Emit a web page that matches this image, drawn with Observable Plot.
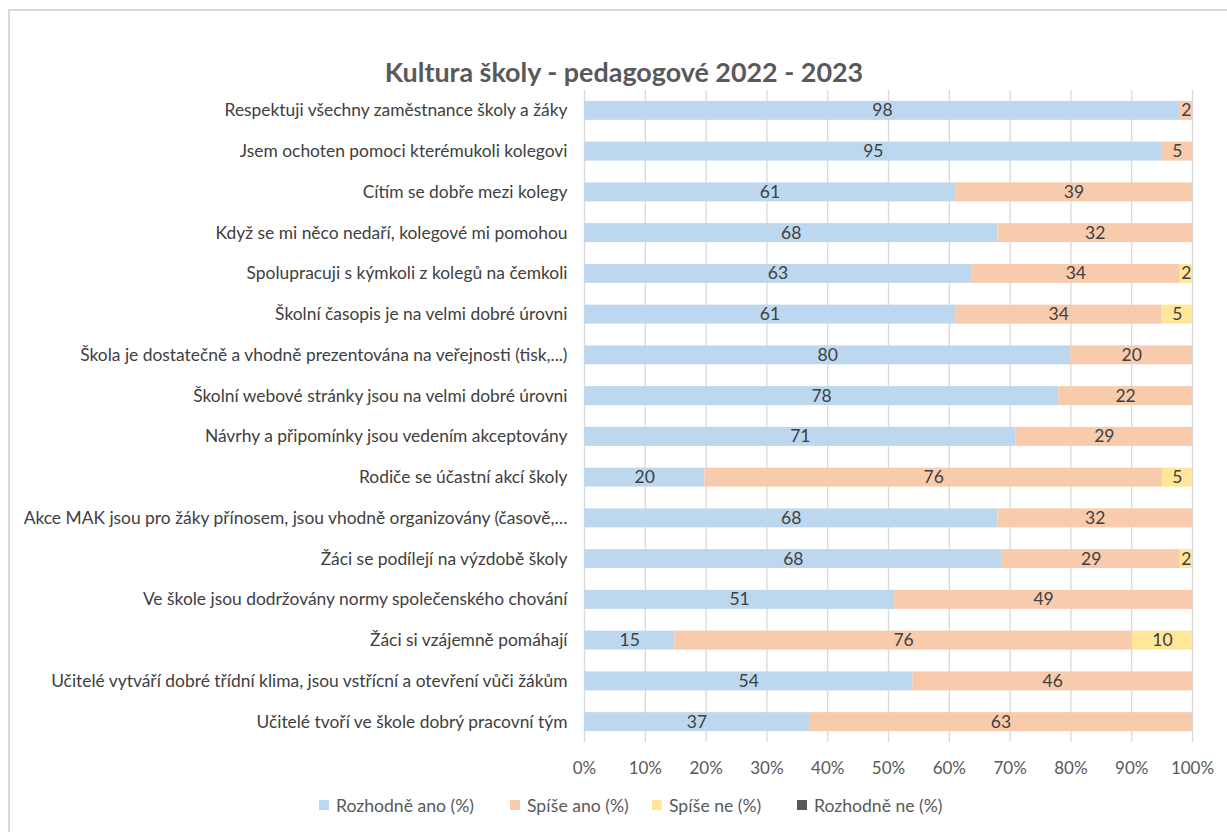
<!DOCTYPE html>
<html>
<head>
<meta charset="utf-8">
<script src="https://cdn.jsdelivr.net/npm/d3@7"></script>
<script src="https://cdn.jsdelivr.net/npm/@observablehq/plot@0.6"></script>
<style>
  html, body { margin: 0; padding: 0; background: #fff; }
  body { width: 1227px; height: 832px; position: relative; overflow: hidden; font-family: Lato, "Open Sans", sans-serif; }
  #frame { position: absolute; left: 8px; top: 9px; width: 1240px; height: 840px; border: 2px solid #d9d9d9; box-sizing: border-box; }
  #title { position: absolute; left: 0; top: 55px; width: 1248px; text-align: center; font-size: 26.9px; font-weight: bold; color: #595959; }
  #chart { position: absolute; left: 0; top: 0; }
  #legend { position: absolute; left: 0; top: 795px; width: 1227px; height: 20px; font-size: 17.6px; color: #595959; white-space: nowrap; }
  .item { position: absolute; top: 0; height: 20px; display: flex; align-items: center; }
  .sw { width: 10px; height: 10px; margin-right: 7px; display: inline-block; }
</style>
</head>
<body>
<div id="frame"></div>
<div id="title">Kultura školy - pedagogové 2022 - 2023</div>
<div id="chart"></div>
<div id="legend"></div>
<script>
const questions = [
  "Respektuji všechny zaměstnance školy a žáky",
  "Jsem ochoten pomoci kterémukoli kolegovi",
  "Cítím se dobře mezi kolegy",
  "Když se mi něco nedaří, kolegové mi pomohou",
  "Spolupracuji s kýmkoli z kolegů na čemkoli",
  "Školní časopis je na velmi dobré úrovni",
  "Škola je dostatečně a vhodně prezentována na veřejnosti (tisk,...)",
  "Školní webové stránky jsou na velmi dobré úrovni",
  "Návrhy a připomínky jsou vedením akceptovány",
  "Rodiče se účastní akcí školy",
  "Akce MAK jsou pro žáky přínosem, jsou vhodně organizovány (časově,…",
  "Žáci se podílejí na výzdobě školy",
  "Ve škole jsou dodržovány normy společenského chování",
  "Žáci si vzájemně pomáhají",
  "Učitelé vytváří dobré třídní klima, jsou vstřícní a otevření vůči žákům",
  "Učitelé tvoří ve škole dobrý pracovní tým"
];
const categories = ["Rozhodně ano (%)", "Spíše ano (%)", "Spíše ne (%)", "Rozhodně ne (%)"];
const colors = ["#bdd7ee", "#f8cbad", "#ffe699", "#595959"];
const rozhodneAno = [98, 95, 61, 68, 63, 61, 80, 78, 71, 20, 68, 68, 51, 15, 54, 37];
const spiseAno    = [ 2,  5, 39, 32, 34, 34, 20, 22, 29, 76, 32, 29, 49, 76, 46, 63];
const spiseNe     = [ 0,  0,  0,  0,  2,  5,  0,  0,  0,  5,  0,  2,  0, 10,  0,  0];
const rozhodneNe  = [ 0,  0,  0,  0,  0,  0,  0,  0,  0,  0,  0,  0,  0,  0,  0,  0];
const xTicks = [0, 0.1, 0.2, 0.3, 0.4, 0.5, 0.6, 0.7, 0.8, 0.9, 1];

const series = [rozhodneAno, spiseAno, spiseNe, rozhodneNe];
const data = [];
questions.forEach((q, i) => {
  categories.forEach((c, j) => {
    data.push({q, cat: c, value: series[j][i]});
  });
});
const nonzero = data.filter(d => d.value > 0);

const font = "Lato, 'Open Sans', sans-serif";

const chart = Plot.plot({
  width: 1227,
  height: 790,
  marginLeft: 584,
  marginRight: 35,
  marginTop: 90,
  marginBottom: 48,
  style: { fontFamily: font, fontSize: "17px", color: "#404040", background: "transparent" },
  x: { domain: [0, 1], axis: null },
  y: { domain: questions, paddingInner: 0.535, paddingOuter: 0.2675, round: false, axis: null },
  color: { domain: categories, range: colors },
  marks: [
    Plot.ruleX(xTicks, { stroke: "#d9d9d9", strokeWidth: 1.3 }),
    Plot.barX(nonzero, Plot.stackX({ x: "value", y: "q", fill: "cat", order: categories, offset: "normalize" })),
    Plot.text(nonzero, Plot.stackX({ x: "value", y: "q", z: "cat", order: categories, offset: "normalize", text: d => String(d.value), fill: "#404040", fontSize: 17.5 })),
    Plot.axisY({ tickSize: 0, tickPadding: 17, fontSize: 17.4, color: "#404040", label: null }),
    Plot.axisX(xTicks, { tickSize: 0, tickPadding: 19, fontSize: 17, color: "#595959", label: null, tickFormat: d => Math.round(d * 100) + "%" })
  ]
});
document.getElementById("chart").appendChild(chart);

const legendX = [319, 510, 652, 797];
const legend = document.getElementById("legend");
categories.forEach((c, i) => {
  const item = document.createElement("div");
  item.className = "item";
  item.style.left = legendX[i] + "px";
  const sw = document.createElement("span");
  sw.className = "sw";
  sw.style.background = colors[i];
  item.appendChild(sw);
  item.appendChild(document.createTextNode(c));
  legend.appendChild(item);
});
</script>
</body>
</html>
